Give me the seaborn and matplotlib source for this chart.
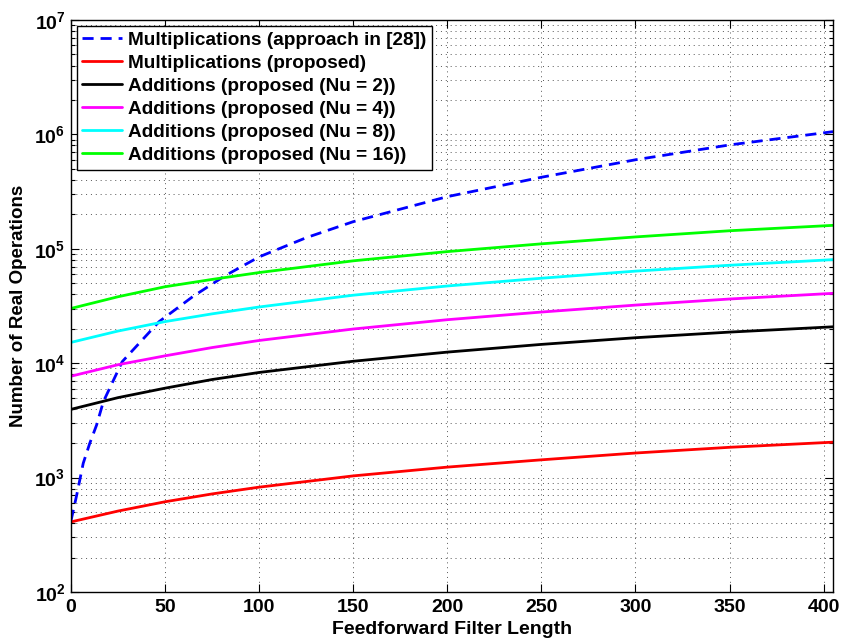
import numpy as np
import pandas as pd
import matplotlib
matplotlib.use("Agg")
import matplotlib.pyplot as plt
import matplotlib.ticker as mticker
import seaborn as sns

# ---- data ----
L_grid = [0, 25, 50, 75, 100, 150, 200, 250, 300, 350, 405]
mult_prop = [410, 510, 615, 720, 825, 1035, 1235, 1430, 1640, 1840, 2040]
add_nu2 = [3950, 5000, 6050, 7200, 8300, 10400, 12500, 14600, 16700, 18700, 20800]
add_nu4 = [7700, 9700, 11600, 13700, 15800, 19900, 24000, 28000, 32200, 36400, 40800]
add_nu8 = [15200, 19100, 23100, 27000, 31000, 39300, 47300, 55300, 63800, 71800, 80400]
add_nu16 = [30100, 38100, 46600, 54000, 62000, 78500, 94500, 110500, 127000, 143800, 160300]

L_ref = [0, 3, 6.5, 10, 13.6, 17.2, 27.2, 46.8, 65, 81.6, 100, 125, 150, 200, 250, 300, 350, 405]
mult_ref = [420, 700, 1335, 2000, 2880, 4610, 10300, 23070, 38500, 57800, 85000,
            125000, 172600, 285600, 422000, 600000, 809000, 1057000]

labels = ["Multiplications (approach in [28])",
          "Multiplications (proposed)",
          "Additions (proposed (Nu = 2))",
          "Additions (proposed (Nu = 4))",
          "Additions (proposed (Nu = 8))",
          "Additions (proposed (Nu = 16))"]
colors = ["#0000ff", "#ff0000", "#000000", "#ff00ff", "#00ffff", "#00ff00"]

xlabel = "Feedforward Filter Length"
ylabel = "Number of Real Operations"

# ---- build long table ----
frames = [pd.DataFrame({"L": L_ref, "ops": mult_ref, "series": labels[0]})]
for lab, vals in zip(labels[1:], [mult_prop, add_nu2, add_nu4, add_nu8, add_nu16]):
    frames.append(pd.DataFrame({"L": L_grid, "ops": vals, "series": lab}))
df = pd.concat(frames, ignore_index=True)

sns.set_style("white")
plt.rcParams["font.family"] = ["Liberation Sans", "DejaVu Sans"]
plt.rcParams["font.weight"] = "bold"
plt.rcParams["text.color"] = "black"
plt.rcParams["axes.labelcolor"] = "black"
plt.rcParams["xtick.color"] = "black"
plt.rcParams["ytick.color"] = "black"
plt.rcParams["mathtext.fontset"] = "custom"
plt.rcParams["mathtext.rm"] = "Liberation Sans:bold"
plt.rcParams["mathtext.bf"] = "Liberation Sans:bold"
plt.rcParams["mathtext.it"] = "Liberation Sans:bold"
plt.rcParams["mathtext.default"] = "rm"

fig = plt.figure(figsize=(8.41, 6.41), dpi=100)
ax = fig.add_axes([71 / 841, 1 - 592 / 641, (833 - 71) / 841, (592 - 20) / 641])

palette = dict(zip(labels, colors))
dashes = {lab: (4, 2.5) if i == 0 else "" for i, lab in enumerate(labels)}
sns.lineplot(data=df, x="L", y="ops", hue="series", style="series",
             hue_order=labels, style_order=labels, palette=palette,
             dashes=dashes, linewidth=2, sort=True, estimator=None, ax=ax)

ax.set_yscale("log")
ax.set_xlim(0, 405)
ax.set_ylim(1e2, 1e7)
ax.xaxis.set_major_locator(mticker.MultipleLocator(50))
ax.yaxis.set_major_locator(mticker.LogLocator(base=10, numticks=10))
ax.yaxis.set_minor_locator(mticker.LogLocator(base=10, subs=np.arange(2, 10), numticks=20))
ax.yaxis.set_major_formatter(mticker.FuncFormatter(lambda v, p: r"$10^{%d}$" % round(np.log10(v))))
ax.yaxis.set_minor_formatter(mticker.NullFormatter())

ax.tick_params(which="both", direction="in", top=True, right=True, bottom=True, left=True,
               colors="black", labelcolor="black", labelsize=14, width=0.8)
ax.tick_params(which="major", length=6)
ax.tick_params(which="minor", length=3)
ax.tick_params(axis="x", pad=5)
ax.tick_params(axis="y", pad=4)
for lab in ax.get_xticklabels() + ax.get_yticklabels():
    lab.set_fontweight("bold")

ax.grid(which="major", axis="both", linestyle=(0, (1, 4)), color="#555555", linewidth=0.7)
ax.grid(which="minor", axis="y", linestyle=(0, (1, 4)), color="#555555", linewidth=0.7)
for s in ax.spines.values():
    s.set_color("black")
    s.set_linewidth(1.0)
    s.set_visible(True)

ax.set_xlabel(xlabel, fontsize=14, fontweight="bold", labelpad=4, color="black")
ax.set_ylabel(ylabel, fontsize=13.5, fontweight="bold", labelpad=5, color="black")

leg = ax.legend(loc="upper left", fontsize=13.7, frameon=True, fancybox=False,
                edgecolor="black", framealpha=1, borderaxespad=0.3,
                labelspacing=0.3, handlelength=2.1, handletextpad=0.3,
                borderpad=0.3)
leg.get_frame().set_linewidth(1.0)
for t in leg.get_texts():
    t.set_fontweight("bold")
    t.set_color("black")

fig.savefig("out.png", dpi=100, facecolor="white")
